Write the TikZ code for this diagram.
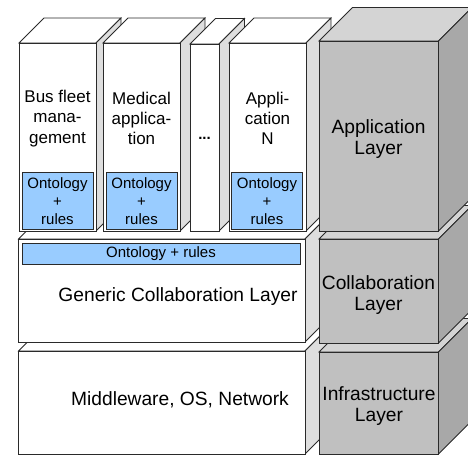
\documentclass[tikz,border=0pt]{standalone}
\usepackage{fontspec}
\setmainfont{Liberation Sans}
\definecolor{ontoblue}{HTML}{99CCFF}
\definecolor{grayfront}{HTML}{C0C0C0}
\definecolor{graytop}{HTML}{D4D4D4}
\definecolor{grayside}{HTML}{A8A8A8}
\definecolor{paleside}{HTML}{DEDEDE}
\definecolor{edgecol}{HTML}{2A2A2A}
% #1 x left, #2 y top, #3 width, #4 height, #5 depth, #6 front, #7 top, #8 side
\newcommand{\cuboid}[8]{%
  \filldraw[fill=#7] (#1,#2) -- ++(#5,-#5) -- ++(#3,0) -- ++(-#5,#5) -- cycle;
  \filldraw[fill=#8] (#1+#3,#2) -- ++(#5,-#5) -- ++(0,#4) -- ++(-#5,#5) -- cycle;
  \filldraw[fill=#6] (#1,#2) rectangle ++(#3,#4);
}
\begin{document}
\begin{tikzpicture}[x=1pt,y=-1pt,line width=0.8pt,draw=edgecol,line join=miter,
  bigtext/.style={align=center,font=\fontsize{19.2}{21.6}\selectfont,inner sep=0pt},
  coltext/.style={align=center,font=\fontsize{17}{20.3}\selectfont,inner sep=0pt},
  ontotext/.style={align=center,font=\fontsize{15}{18.3}\selectfont,inner sep=0pt},
  ontobox/.style={draw=edgecol,fill=ontoblue}]
\useasboundingbox (0,0) rectangle (468,456);
\clip (0,0) rectangle (468,456);
% white stack
\cuboid{18.5}{351}{286.5}{103}{25}{white}{white}{paleside}
\cuboid{18.5}{239}{286.5}{103}{25}{white}{white}{paleside}
% columns
\cuboid{19}{43}{77}{188}{25}{white}{white}{paleside}
\cuboid{103}{43}{77}{188}{25}{white}{white}{paleside}
\cuboid{190}{44}{29}{187}{25.5}{white}{white}{paleside}
\cuboid{229}{43}{77}{188}{25}{white}{white}{paleside}
% ontology boxes
\filldraw[ontobox] (22,172) rectangle (93,229);
\filldraw[ontobox] (106,172) rectangle (177,229);
\filldraw[ontobox] (231.5,172) rectangle (302.5,229);
\filldraw[ontobox] (22,243) rectangle (300,264);
% gray stack
\cuboid{319}{352}{119.5}{102}{33.5}{grayfront}{graytop}{grayside}
\cuboid{319}{239}{119.5}{104}{33.5}{grayfront}{graytop}{grayside}
\cuboid{319}{41}{119.5}{190}{33.5}{grayfront}{graytop}{grayside}
% texts
\node[coltext] (bus) at (57.5,118.5) {Bus fleet\\mana-\\gement};
\node[coltext] (med) at (141.5,118.5) {Medical\\applica-\\tion};
\node[font=\bfseries\fontsize{15}{17}\selectfont,inner sep=0pt] (dots) at (204.5,138.5) {...};
\node[coltext] (appn) at (267.5,118.5) {Appli-\\cation\\N};
\node[ontotext] (o1) at (57.5,201) {Ontology\\+\\rules};
\node[ontotext] (o2) at (141.5,201) {Ontology\\+\\rules};
\node[ontotext] (o3) at (267,201) {Ontology\\+\\rules};
\node[ontotext] (o4) at (161,254) {Ontology + rules};
\node[bigtext] (gcl) at (178,297) {Generic Collaboration Layer};
\node[bigtext] (mw) at (180,400) {Middleware, OS, Network};
\node[bigtext] (al) at (378.5,139) {Application\\Layer};
\node[bigtext] (cl) at (378.5,295) {Collaboration\\Layer};
\node[bigtext] (il) at (379,406) {Infrastructure\\Layer};
\end{tikzpicture}
\end{document}
